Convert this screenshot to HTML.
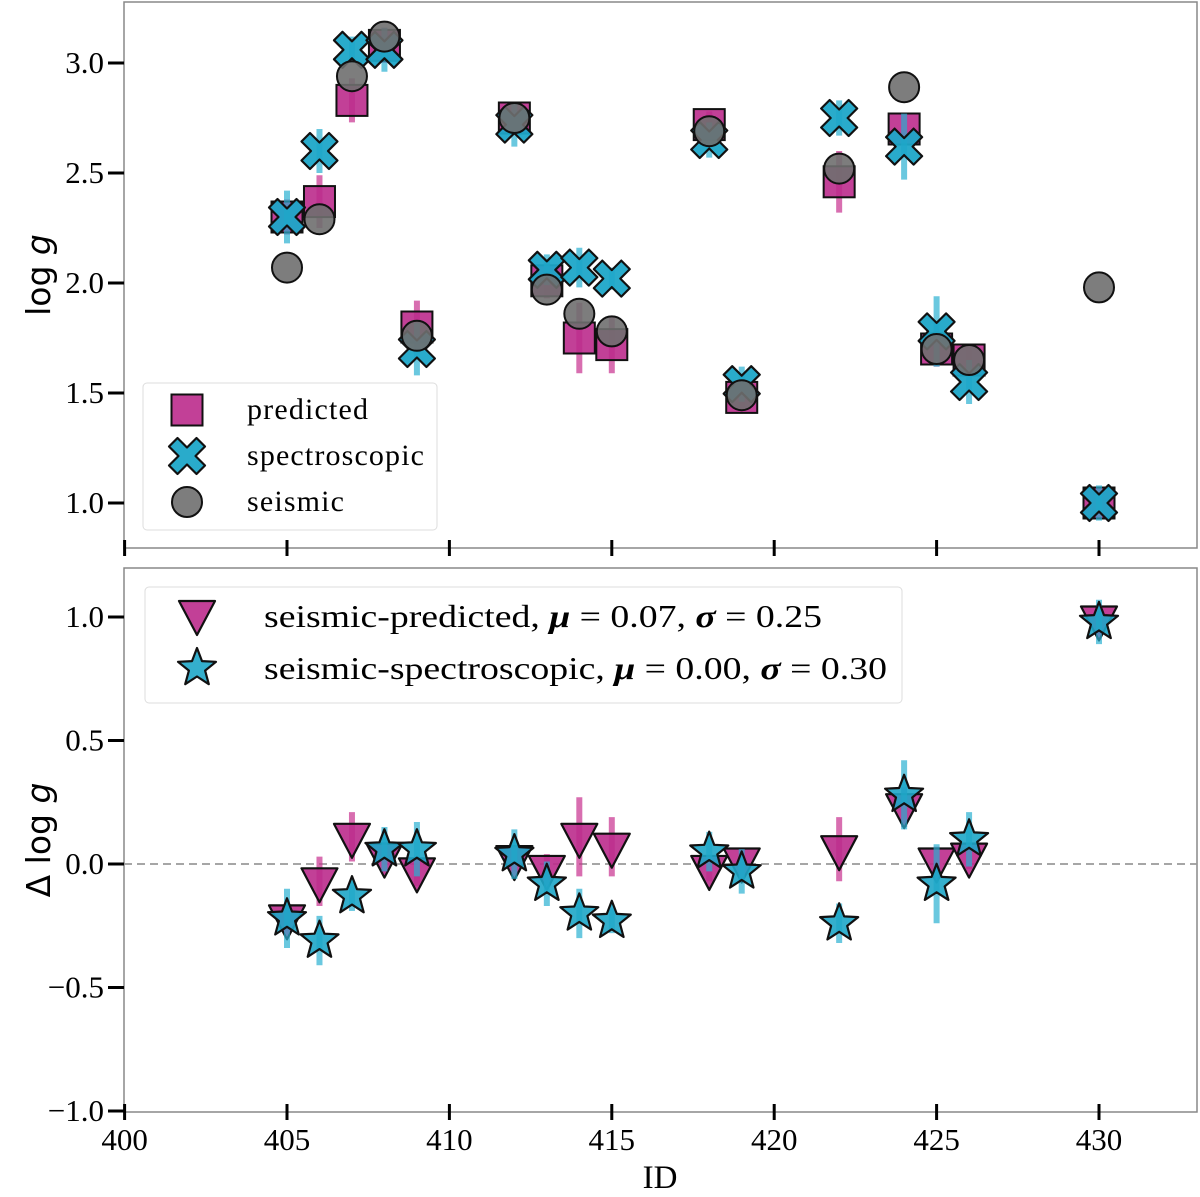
<!DOCTYPE html>
<html><head><meta charset="utf-8"><style>
body{margin:0;background:#fff}
svg text{font-family:"Liberation Serif",serif}
</style></head><body>
<svg id="c" width="1200" height="1192" viewBox="0 0 1200 1192" xmlns="http://www.w3.org/2000/svg"></svg>
<script>
const ids=[405,406,407,408,409,412,413,414,415,418,419,422,424,425,426,430];
const predicted=[2.30,2.37,2.83,3.08,1.80,2.75,2.01,1.75,1.72,2.72,1.48,2.46,2.70,1.70,1.65,1.00];
const predErr=[0.08,0.12,0.10,0.08,0.12,0.06,0.08,0.16,0.13,0.06,0.06,0.14,0.07,0.08,0.06,0.04];
const spectroscopic=[2.30,2.60,3.06,3.06,1.70,2.72,2.06,2.07,2.02,2.65,1.54,2.75,2.62,1.78,1.55,1.00];
const specErr=[0.12,0.10,0.06,0.10,0.12,0.10,0.07,0.09,0.05,0.08,0.08,0.08,0.15,0.16,0.10,0.08];
const seismic=[2.07,2.29,2.94,3.12,1.76,2.75,1.97,1.86,1.78,2.69,1.49,2.52,2.89,1.70,1.65,1.98];
const dPred=[-0.22,-0.07,0.11,0.03,-0.03,0.02,-0.02,0.11,0.07,-0.02,0.01,0.06,0.23,0.01,0.03,0.99];
const dPredErr=[0.05,0.10,0.10,0.06,0.06,0.05,0.06,0.16,0.12,0.05,0.05,0.13,0.08,0.06,0.05,0.06];
const dSpec=[-0.22,-0.31,-0.13,0.06,0.06,0.04,-0.08,-0.20,-0.23,0.05,-0.03,-0.24,0.28,-0.08,0.10,0.98];
const dSpecErr=[0.12,0.10,0.06,0.09,0.11,0.10,0.09,0.10,0.05,0.08,0.09,0.08,0.14,0.16,0.11,0.09];
const xTicks=[400,405,410,415,420,425,430];
const yTopTicks=[1.0,1.5,2.0,2.5,3.0];
const yBotTicks=[-1.0,-0.5,0.0,0.5,1.0];

const NS="http://www.w3.org/2000/svg";
const svg=document.getElementById('c');
const X=v=>124.6+(v-400)*32.48;
const YT=v=>503-(v-1)*220;
const YB=v=>864-v*247;
const MAG="#bb2b8c",CYA="#1ea6c8",GRY="#6f6f6f";
function el(tag,at,name,parent){const e=document.createElementNS(NS,tag);for(const k in at)e.setAttribute(k,at[k]);


(parent||svg).appendChild(e);return e;}
function txt(x,y,s,size,anchor,name,extra){const t=el('text',Object.assign({x:x,y:y,'font-size':size,'text-anchor':anchor||'middle',fill:'#000'},extra||{}),name);t.textContent=s;return t;}
function sq(cx,cy,name,g){return el('rect',{x:cx-15.5,y:cy-15.5,width:31,height:31,fill:MAG,'fill-opacity':0.9,stroke:'#111','stroke-width':2},name,g);}
function cross(cx,cy,name,g){const a=8.5,b=18;const p=[[0,-a],[b-a,-b],[b,-(b-a)],[a,0],[b,b-a],[b-a,b],[0,a],[-(b-a),b],[-b,b-a],[-a,0],[-b,-(b-a)],[-(b-a),-b]];
return el('polygon',{points:p.map(q=>(cx+q[0])+','+(cy+q[1])).join(' '),fill:CYA,'fill-opacity':0.95,stroke:'#111','stroke-width':2.2,'stroke-linejoin':'round'},name,g);}
function circ(cx,cy,name,g){return el('circle',{cx:cx,cy:cy,r:15,fill:GRY,'fill-opacity':0.9,stroke:'#111','stroke-width':2},name,g);}
function tri(cx,cy,name,g){return el('polygon',{points:`${cx-18},${cy-13} ${cx+18},${cy-13} ${cx},${cy+21}`,fill:MAG,'fill-opacity':0.9,stroke:'#111','stroke-width':2.2,'stroke-linejoin':'round'},name,g);}
function star(cx,cy,name,g){let p=[];for(let i=0;i<10;i++){const r=i%2?8.5:20;const a=-Math.PI/2+i*Math.PI/5;p.push((cx+r*Math.cos(a)).toFixed(1)+','+(cy+r*Math.sin(a)).toFixed(1));}
return el('polygon',{points:p.join(' '),fill:CYA,'fill-opacity':0.9,stroke:'#111','stroke-width':2.2,'stroke-linejoin':'round'},name,g);}
function err(x,y1,y2,col,name,g){return el('line',{x1:x,x2:x,y1:y1,y2:y2,stroke:col,'stroke-opacity':0.7,'stroke-width':6},name,g);}

el('rect',{x:124,y:2,width:1073,height:546,fill:'none',stroke:'#888','stroke-width':1.5},'top-panel-frame');
el('rect',{x:124,y:568,width:1073,height:544,fill:'none',stroke:'#888','stroke-width':1.5},'bottom-panel-frame');
xTicks.forEach(v=>{el('line',{x1:X(v),x2:X(v),y1:540,y2:556,stroke:'#000','stroke-width':3},'top-x-tick');
el('line',{x1:X(v),x2:X(v),y1:1104,y2:1120,stroke:'#000','stroke-width':3},'bottom-x-tick');
txt(X(v),1150,String(v),31,'middle','x-tick-label');});
yTopTicks.forEach(v=>{el('line',{x1:108,x2:124,y1:YT(v),y2:YT(v),stroke:'#000','stroke-width':3},'top-y-tick');
txt(104,YT(v)+10,v.toFixed(1),31,'end','top-y-tick-label');});
yBotTicks.forEach(v=>{el('line',{x1:108,x2:124,y1:YB(v),y2:YB(v),stroke:'#000','stroke-width':3},'bottom-y-tick');
txt(104,YB(v)+10,(v<0?'\u2212':'')+Math.abs(v).toFixed(1),31,'end','bottom-y-tick-label');});
txt(660,1188,'ID',33,'middle','x-axis-title');
const yl1=txt(50,275,'',33,'middle','top-y-axis-title',{transform:'rotate(-90 50 275)'});
yl1.innerHTML='log <tspan font-style="italic">g</tspan>';yl1.style.fontFamily='"DejaVu Sans",sans-serif';
const yl2=txt(50,840,'',33,'middle','bottom-y-axis-title',{transform:'rotate(-90 50 840)'});
yl2.innerHTML='Δ log <tspan font-style="italic">g</tspan>';yl2.style.fontFamily='"DejaVu Sans",sans-serif';
el('line',{x1:124,x2:1197,y1:YB(0),y2:YB(0),stroke:'#999','stroke-width':1.8,'stroke-dasharray':'8,5'},'zero-line');

const gT=el('g',{},'top-series');
ids.forEach((id,i)=>{const x=X(id);
err(x,YT(predicted[i]-predErr[i]),YT(predicted[i]+predErr[i]),'#c8318f','predicted-errorbar',gT);
sq(x,YT(predicted[i]),'predicted-point',gT);});
ids.forEach((id,i)=>{const x=X(id);
err(x,YT(spectroscopic[i]-specErr[i]),YT(spectroscopic[i]+specErr[i]),'#2bb0d2','spectroscopic-errorbar',gT);
cross(x,YT(spectroscopic[i]),'spectroscopic-point',gT);});
ids.forEach((id,i)=>{circ(X(id),YT(seismic[i]),'seismic-point',gT);});

const gB=el('g',{},'bottom-series');
ids.forEach((id,i)=>{const x=X(id);
err(x,YB(dPred[i]-dPredErr[i]),YB(dPred[i]+dPredErr[i]),'#c8318f','delta-pred-errorbar',gB);
tri(x,YB(dPred[i]),'delta-pred-point',gB);});
ids.forEach((id,i)=>{const x=X(id);
err(x,YB(dSpec[i]-dSpecErr[i]),YB(dSpec[i]+dSpecErr[i]),'#2bb0d2','delta-spec-errorbar',gB);
star(x,YB(dSpec[i]),'delta-spec-point',gB);});

const l1=el('g',{},'top-legend');
el('rect',{x:143,y:383,width:294,height:147,rx:4,fill:'#fff','fill-opacity':0.85,stroke:'#ddd','stroke-width':1},'top-legend-box',l1);
sq(187,410,'legend-predicted-marker',l1);txt(247,419,'predicted',30,'start','legend-predicted-label',{textLength:121});
cross(187,456,'legend-spectroscopic-marker',l1);txt(247,465,'spectroscopic',30,'start','legend-spectroscopic-label',{textLength:177});
circ(187,502,'legend-seismic-marker',l1);txt(247,511,'seismic',30,'start','legend-seismic-label',{textLength:97});
const l2=el('g',{},'bottom-legend');
el('rect',{x:145,y:587,width:757,height:116,rx:4,fill:'#fff','fill-opacity':0.85,stroke:'#ddd','stroke-width':1},'bottom-legend-box',l2);
tri(197,614,'legend-delta-pred-marker',l2);
const t1=txt(264,627,'',32,'start','legend-delta-pred-label',{textLength:558,lengthAdjust:'spacingAndGlyphs'});t1.innerHTML='seismic-predicted, <tspan font-style="italic" font-weight="bold">μ</tspan> = 0.07, <tspan font-style="italic" font-weight="bold">σ</tspan> = 0.25';
star(197,668,'legend-delta-spec-marker',l2);
const t2=txt(264,679,'',32,'start','legend-delta-spec-label',{textLength:623,lengthAdjust:'spacingAndGlyphs'});t2.innerHTML='seismic-spectroscopic, <tspan font-style="italic" font-weight="bold">μ</tspan> = 0.00, <tspan font-style="italic" font-weight="bold">σ</tspan> = 0.30';
</script>
</body></html>
